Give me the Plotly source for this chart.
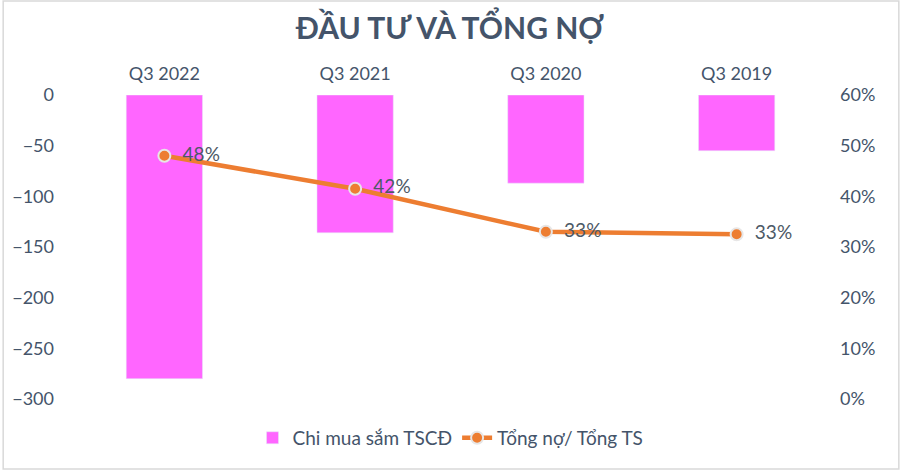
import plotly.graph_objects as go

quarters = ['Q3 2022', 'Q3 2021', 'Q3 2020', 'Q3 2019']
capex = [-280, -136, -87, -55]
debt_ratio = [0.48, 0.415, 0.33, 0.325]
debt_labels = ['48%', '42%', '33%', '33%']

text_color = '#44546A'
font_name = 'Lato'

fig = go.Figure()

fig.add_trace(go.Bar(
    x=quarters,
    y=capex,
    name='Chi mua sắm TSCĐ',
    marker_color='#FF66FF',
    width=0.4,
))

fig.add_trace(go.Scatter(
    x=quarters,
    y=debt_ratio,
    name='Tổng nợ/ Tổng TS',
    yaxis='y2',
    mode='lines+markers+text',
    line=dict(color='#ED7D31', width=4.5),
    marker=dict(size=12, color='#ED7D31', line=dict(color='#E7E6E6', width=2)),
    text=debt_labels,
    texttemplate='  %{text}',
    textposition='middle right',
    textfont=dict(size=19, color='#4D5966', family=font_name),
))

fig.update_layout(
    width=900,
    height=470,
    paper_bgcolor='white',
    plot_bgcolor='white',
    margin=dict(l=67, r=68, t=95, b=71),
    title=dict(
        text='<b>ĐẦU TƯ VÀ TỔNG NỢ</b>',
        x=0.5, xanchor='center',
        y=0.94, yref='container', yanchor='middle',
        font=dict(size=30, color=text_color, family=font_name),
    ),
    font=dict(family=font_name, color=text_color, size=18),
    xaxis=dict(
        type='category',
        side='top',
        showline=False,
        showgrid=False,
        ticks='',
        tickfont=dict(size=18, color=text_color),
        ticklabelstandoff=10,
    ),
    yaxis=dict(
        range=[-300, 0],
        dtick=50,
        showgrid=False,
        zeroline=False,
        showline=False,
        tickfont=dict(size=18, color=text_color),
        ticklabelstandoff=14,
    ),
    yaxis2=dict(
        overlaying='y',
        side='right',
        range=[0, 0.6],
        dtick=0.1,
        tickformat='.0%',
        showgrid=False,
        zeroline=False,
        showline=False,
        tickfont=dict(size=18, color=text_color),
        ticklabelstandoff=7,
    ),
    legend=dict(
        orientation='h',
        x=0.5, xanchor='center',
        y=-0.128, yanchor='middle',
        font=dict(size=19, color=text_color),
    ),
    showlegend=True,
    shapes=[dict(
        type='rect', xref='paper', yref='paper',
        x0=-66 / 765, x1=1 + 67 / 765, y0=-70 / 304, y1=1 + 94 / 304,
        line=dict(color='#D9D9D9', width=1.5),
    )],
)

fig.write_html('out.html', config={'displayModeBar': False},
               post_script="document.body.style.margin='0';")
